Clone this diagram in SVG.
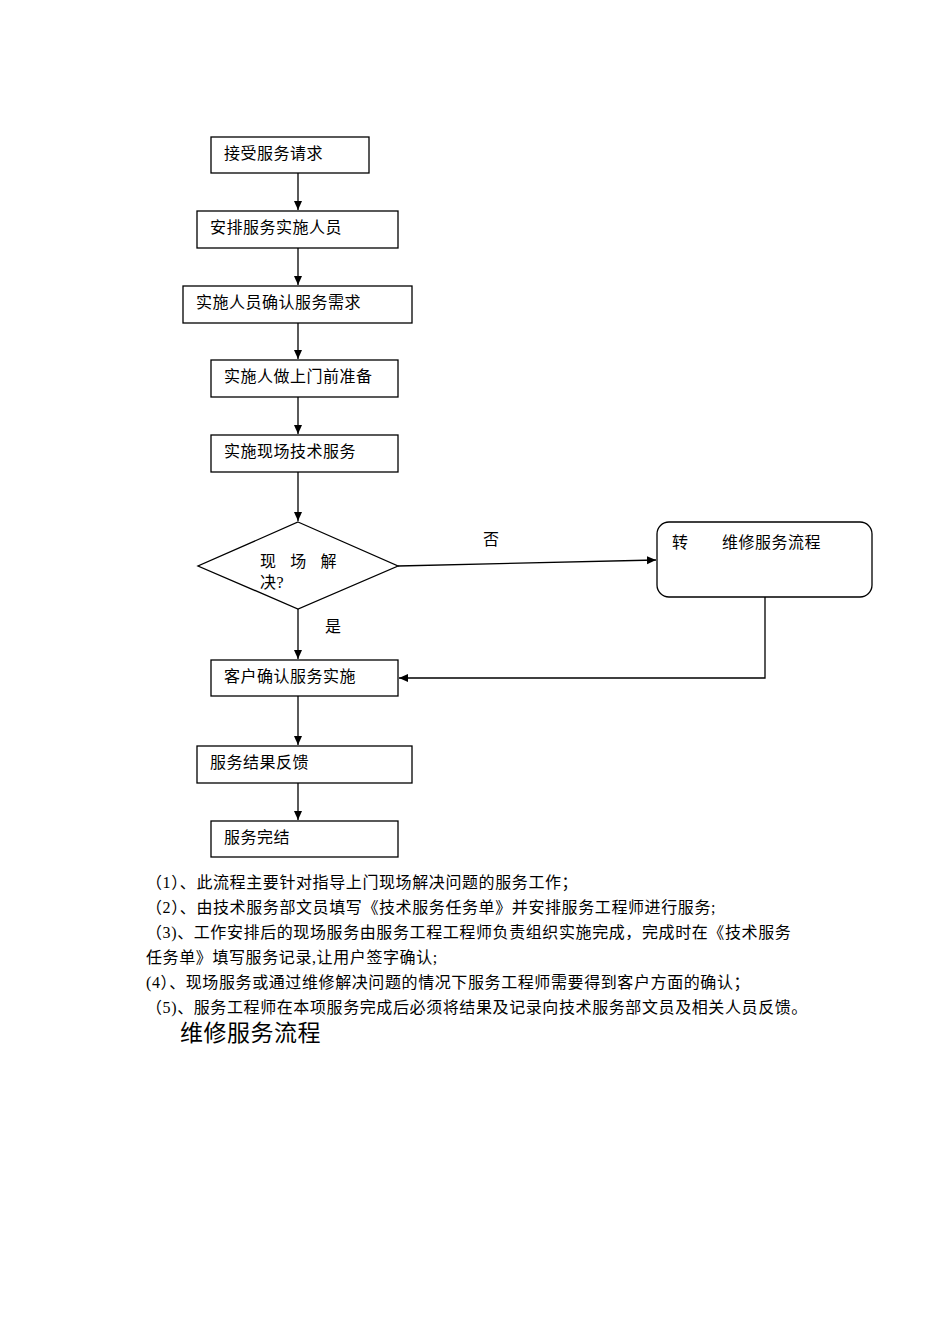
<svg xmlns="http://www.w3.org/2000/svg" width="950" height="1344" viewBox="0 0 950 1344">
<style>
.b{fill:#fff;stroke:#000;stroke-width:1.3}
.l{fill:none;stroke:#000;stroke-width:1.3}
text{font-family:"Liberation Serif","Noto Sans CJK SC",serif;font-size:16px;letter-spacing:0.5px;fill:#000}
.n{font-size:16px;letter-spacing:0.6px}
</style>
<defs><marker id="a" markerWidth="10" markerHeight="10" refX="9" refY="5" orient="auto" markerUnits="userSpaceOnUse"><path d="M0,1 L9,5 L0,9 Z" fill="#000"/></marker></defs>
<rect width="950" height="1344" fill="#fff"/>
<g id="connectors">
<path class="l" d="M298,173 V210" marker-end="url(#a)"/>
<path class="l" d="M298,248 V285" marker-end="url(#a)"/>
<path class="l" d="M298,323 V359" marker-end="url(#a)"/>
<path class="l" d="M298,397 V434" marker-end="url(#a)"/>
<path class="l" d="M298,472 V521" marker-end="url(#a)"/>
<path class="l" d="M398,566 L656,560" marker-end="url(#a)"/>
<path class="l" d="M298,609 V659" marker-end="url(#a)"/>
<path class="l" d="M765,597 V678 H399" marker-end="url(#a)"/>
<path class="l" d="M298,696 V745" marker-end="url(#a)"/>
<path class="l" d="M298,783 V820" marker-end="url(#a)"/>
<text x="483" y="545">否</text>
<text x="325" y="632">是</text>
</g>
<g id="n1"><rect class="b" x="211" y="137" width="158" height="36"/><text x="224" y="159">接受服务请求</text></g>
<g id="n2"><rect class="b" x="197" y="211" width="201" height="37"/><text x="210" y="233">安排服务实施人员</text></g>
<g id="n3"><rect class="b" x="183" y="286" width="229" height="37"/><text x="196" y="308">实施人员确认服务需求</text></g>
<g id="n4"><rect class="b" x="211" y="360" width="187" height="37"/><text x="224" y="382">实施人做上门前准备</text></g>
<g id="n5"><rect class="b" x="211" y="435" width="187" height="37"/><text x="224" y="457">实施现场技术服务</text></g>
<g id="n6"><path class="b" d="M298,522 L398,566 L298,609 L198,566 Z"/><text x="260" y="567" textLength="77" lengthAdjust="spacing">现 场 解</text><text x="260" y="588">决?</text></g>
<g id="n7"><rect class="b" x="657" y="522" width="215" height="75" rx="12"/><text x="672" y="548">转</text><text x="722" y="548">维修服务流程</text></g>
<g id="n8"><rect class="b" x="211" y="660" width="187" height="36"/><text x="224" y="682">客户确认服务实施</text></g>
<g id="n9"><rect class="b" x="197" y="746" width="215" height="37"/><text x="210" y="768">服务结果反馈</text></g>
<g id="n10"><rect class="b" x="211" y="821" width="187" height="36"/><text x="224" y="843">服务完结</text></g>
<g id="notes">
<text class="n" x="146" y="888">（1）、此流程主要针对指导上门现场解决问题的服务工作；</text>
<text class="n" x="146" y="913">（2）、由技术服务部文员填写《技术服务任务单》并安排服务工程师进行服务;</text>
<text class="n" x="146" y="938">（3)、工作安排后的现场服务由服务工程工程师负责组织实施完成，完成时在《技术服务</text>
<text class="n" x="146" y="963">任务单》填写服务记录,让用户签字确认;</text>
<text class="n" x="146" y="988">(4）、现场服务或通过维修解决问题的情况下服务工程师需要得到客户方面的确认；</text>
<text class="n" x="146" y="1013">（5)、服务工程师在本项服务完成后必须将结果及记录向技术服务部文员及相关人员反馈。</text>
<text x="180" y="1041" style="font-size:23px;letter-spacing:0.5px">维修服务流程</text>
</g>
</svg>
